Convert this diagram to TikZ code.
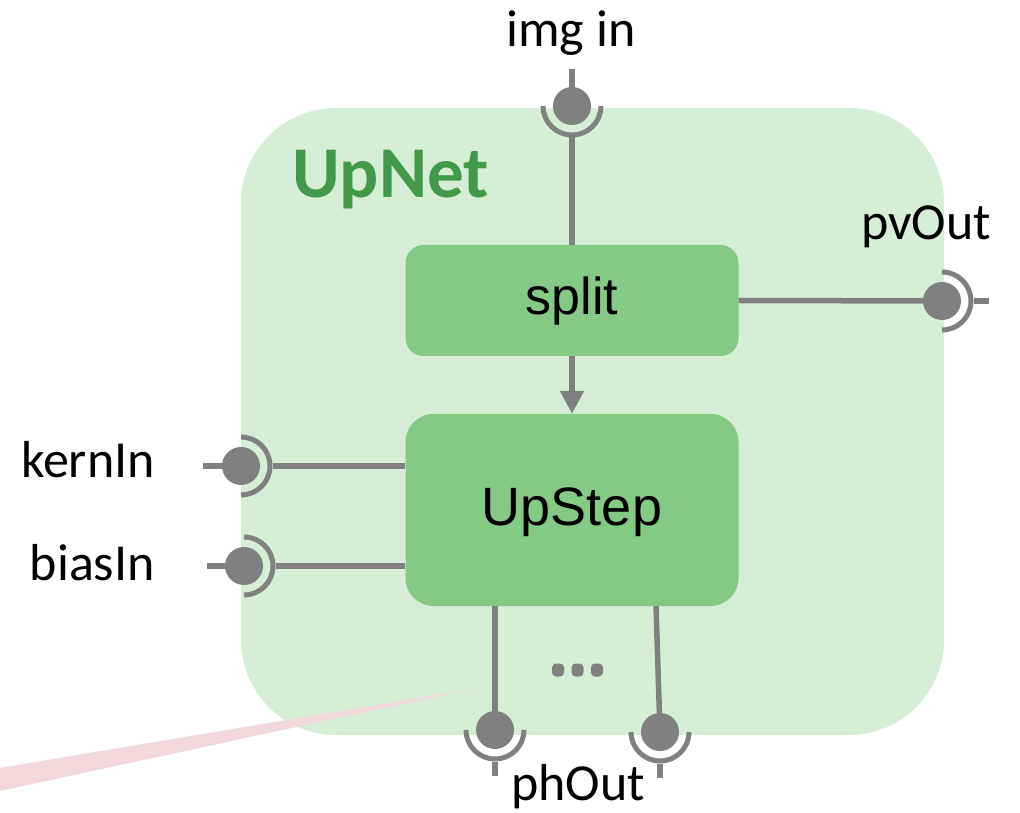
\documentclass[tikz,border=0pt]{standalone}
\usepackage{fontspec}
\setmainfont{Carlito}
\newfontfamily\arialfont{Liberation Sans}
\usetikzlibrary{arrows.meta}
\definecolor{netfill}{HTML}{D6EED6}
\definecolor{boxfill}{HTML}{84C984}
\definecolor{titlegreen}{HTML}{42994A}
\definecolor{wire}{HTML}{808080}
\definecolor{wedgepink}{HTML}{F0D8DC}
\begin{document}
\begin{tikzpicture}[x=1pt,y=1pt,
  wirestyle/.style={draw=wire, line width=5.5pt},
  ball/.style={circle, fill=wire, minimum size=38pt, inner sep=0pt},
  socket/.style={draw=wire, line width=5pt},
  blockbox/.style={fill=boxfill, inner sep=0pt, minimum width=333pt,
    font=\arialfont\fontsize{52}{60}\selectfont},
  portlabel/.style={inner sep=0pt, font=\fontsize{52}{60}\selectfont},
]
\useasboundingbox (0,0) rectangle (1020,812);

% composite block
\node[fill=netfill, rounded corners=95pt, minimum width=703pt,
      minimum height=627pt, inner sep=0pt] (upnet) at (592.5,390.5) {};
\fill[wedgepink] (0,44) -- (477,124) -- (0,21) -- cycle;
\node[anchor=base west, inner sep=0pt, text=titlegreen,
      font=\bfseries\fontsize{73}{86}\selectfont] (title) at (292,614) {UpNet};

% inner blocks
\node[blockbox, rounded corners=18pt, minimum height=111pt,
      text height=38pt, text depth=9pt] (split) at (572,511.5) {split};
\node[blockbox, rounded corners=28pt, minimum height=192pt,
      font=\arialfont\fontsize{54}{62}\selectfont,
      text height=40pt, text depth=10pt] (upstep) at (572,302) {UpStep};
\draw[wirestyle, -{Triangle[width=23pt,length=23pt]}] (split.south) -- (upstep.north);

% port: img in
\node[ball] (imgin) at (572,706) {};
\coordinate (imgin-end) at (572,743);
\draw[socket] ([shift={(180:29)}]imgin.center) arc[start angle=180, end angle=360, radius=29];
\draw[wirestyle] (imgin-end) -- (imgin.center);
\draw[wirestyle] ([yshift=-31.5pt]imgin.center) -- (split.north);
\node[portlabel, anchor=base] (imginlab) at (571,765) {img in};

% port: pvOut
\node[ball] (pvout) at (942,511) {};
\coordinate (pvout-end) at (989,511);
\draw[wirestyle] (split.east) -- (pvout.center);
\draw[socket] ([shift={(90:29)}]pvout.center) arc[start angle=90, end angle=-90, radius=29];
\draw[wirestyle] ([xshift=31.5pt]pvout.center) -- (pvout-end);
\node[portlabel, anchor=base] (pvoutlab) at (926,572) {pvOut};

% port: kernIn
\node[ball] (kin) at (241,346) {};
\coordinate (kin-end) at (203,346);
\draw[wirestyle] (kin-end) -- (kin.center);
\draw[socket] ([shift={(90:29)}]kin.center) arc[start angle=90, end angle=-90, radius=29];
\draw[wirestyle] ([xshift=31.5pt]kin.center) -- (kin -| upstep.west);
\node[portlabel, anchor=base east] (kinlab) at (155,334) {kernIn};

% port: biasIn
\node[ball] (bin) at (244,246) {};
\coordinate (bin-end) at (207,246);
\draw[wirestyle] (bin-end) -- (bin.center);
\draw[socket] ([shift={(90:29)}]bin.center) arc[start angle=90, end angle=-90, radius=29];
\draw[wirestyle] ([xshift=31.5pt]bin.center) -- (bin -| upstep.west);
\node[portlabel, anchor=base east] (binlab) at (155,232) {biasIn};

% ports: phOut
\node[ball] (ph1) at (495,82) {};
\coordinate (ph1-end) at (495,36);
\draw[wirestyle] (ph1 |- upstep.south) -- (ph1.center);
\draw[socket] ([shift={(180:29)}]ph1.center) arc[start angle=180, end angle=360, radius=29];
\draw[wirestyle] ([yshift=-31.5pt]ph1.center) -- (ph1-end);

\node[ball] (ph2) at (660,80) {};
\coordinate (ph2-top) at (656,206);
\coordinate (ph2-end) at (660,34);
\draw[wirestyle] (ph2-top) -- (ph2.center);
\draw[socket] ([shift={(180:29)}]ph2.center) arc[start angle=180, end angle=360, radius=29];
\draw[wirestyle] ([yshift=-31.5pt]ph2.center) -- (ph2-end);
\node[portlabel, anchor=base] (phlab) at (578,12) {phOut};

% ellipsis between the phOut wires
\foreach \dx in {558,577.5,597}
  \fill[wire, rounded corners=4pt] (\dx-6,135.5) rectangle (\dx+6,148.5);
\end{tikzpicture}
\end{document}
